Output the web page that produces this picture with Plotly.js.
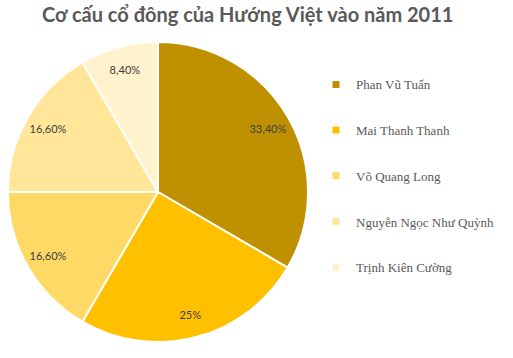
<!DOCTYPE html>
<html>
<head>
<meta charset="utf-8">
<script src="https://cdn.plot.ly/plotly-3.0.1.min.js"></script>
<style>html,body{margin:0;padding:0;background:#fff;}</style>
</head>
<body>
<div id="chart" style="width:513px;height:358px;"></div>
<script>
const shareholders = ["Phan Vũ Tuấn", "Mai Thanh Thanh", "Võ Quang Long", "Nguyễn Ngọc Như Quỳnh", "Trịnh Kiên Cường"];
const shares = [33.40, 25, 16.60, 16.60, 8.40];
const colors = ["#BF9000", "#FFC000", "#FFD966", "#FFE699", "#FFF2CC"];

const labelText = shares.map(v => Number.isInteger(v) ? v + "%" : v.toFixed(2).replace(".", ",") + "%");
const pieDomain = {x: [8/513, 308/513], y: [16/358, 316/358]};

const pie = {
  type: "pie",
  labels: shareholders,
  values: shares,
  textinfo: "none",
  sort: false,
  direction: "clockwise",
  rotation: 0,
  marker: {colors: colors, line: {color: "#ffffff", width: 2}},
  domain: pieDomain,
  showlegend: false,
  hoverinfo: "label+percent"
};

// transparent ring carrying the data labels near the outer edge (Excel "best fit" look)
const labelRing = {
  type: "pie",
  labels: shareholders,
  values: shares,
  text: labelText,
  textinfo: "text",
  textposition: "inside",
  insidetextorientation: "horizontal",
  sort: false,
  direction: "clockwise",
  rotation: 0,
  hole: 0.69,
  marker: {colors: shareholders.map(() => "rgba(0,0,0,0)"), line: {width: 0}},
  textfont: {family: "Lato, 'Open Sans', sans-serif", size: 11, color: "#404040"},
  domain: pieDomain,
  showlegend: false,
  hoverinfo: "skip"
};

const legendTraces = shareholders.map((name, i) => ({
  type: "scatter",
  mode: "markers",
  x: [null], y: [null],
  name: name,
  legendgroup: "g" + i,
  marker: {symbol: "square", size: 7, color: colors[i]},
  showlegend: true,
  hoverinfo: "skip"
}));

const layout = {
  width: 513, height: 358,
  margin: {l: 0, r: 0, t: 0, b: 0},
  paper_bgcolor: "#ffffff", plot_bgcolor: "#ffffff",
  title: {
    text: "<b>Cơ cấu cổ đông của Hướng Việt vào năm 2011</b>",
    font: {family: "Lato, 'Open Sans', sans-serif", size: 20, color: "#595959"},
    x: 0.483, xanchor: "center", y: 0.958, yanchor: "middle"
  },
  xaxis: {visible: false},
  yaxis: {visible: false},
  legend: {
    x: 316/513, xanchor: "left", y: 0.806, yanchor: "top",
    font: {family: "'Liberation Serif', 'Times New Roman', serif", size: 13, color: "#595959"},
    tracegroupgap: 25.8,
    itemwidth: 30,
    bgcolor: "rgba(0,0,0,0)"
  },
  showlegend: true
};

Plotly.newPlot("chart", [pie, labelRing, ...legendTraces], layout, {displayModeBar: false, staticPlot: true});
</script>
</body>
</html>
